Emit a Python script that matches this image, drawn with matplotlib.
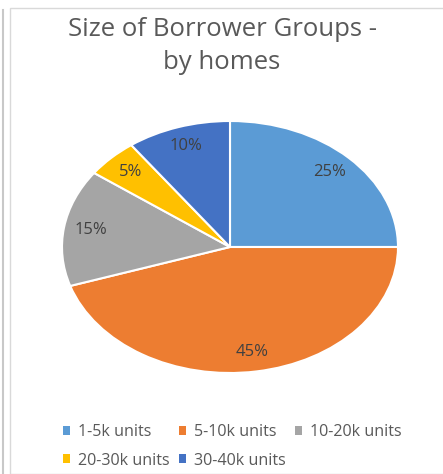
import matplotlib
matplotlib.use("Agg")
import matplotlib.pyplot as plt
from matplotlib.patches import Patch, Rectangle
from matplotlib.lines import Line2D

labels = ["1-5k units", "5-10k units", "10-20k units", "20-30k units", "30-40k units"]
shares = [25, 45, 15, 5, 10]
colors = ["#5B9BD5", "#ED7D31", "#A5A5A5", "#FFC000", "#4472C4"]

plt.rcParams["font.family"] = ["Open Sans", "DejaVu Sans"]
text_grey = "#595959"

fig = plt.figure(figsize=(4.43, 4.74), dpi=100)
W, H = 443, 474

# chart frame and the stray line at the far left (behind everything)
fig.add_artist(Rectangle((10 / W, 0), 1.0, 1 - 8 / H, transform=fig.transFigure,
                         facecolor="white", edgecolor="#D9D9D9", linewidth=1.0,
                         zorder=-5))
fig.add_artist(Line2D([2.5 / W, 2.5 / W], [0, 1 - 10 / H], transform=fig.transFigure,
                      color="#C8C8C8", linewidth=1.5, zorder=-5))

# pie is stretched horizontally in the reference (ellipse)
ax = fig.add_axes([62 / W, (H - 373) / H, 336 / W, 252 / H])
wedges, texts, autotexts = ax.pie(
    shares, colors=colors, startangle=90, counterclock=False,
    autopct="%d%%", pctdistance=0.84,
    wedgeprops=dict(edgecolor="white", linewidth=1.5),
    textprops=dict(color="#404040", fontsize=12))
ax.set_aspect("auto")
ax.set_xlim(-1, 1)
ax.set_ylim(-1, 1)
ax.axis("off")

fig.text(222 / W, 1 - 46 / H, "Size of Borrower Groups -\nby homes", ha="center",
         va="center", fontsize=18.5, color=text_grey, linespacing=1.38)

# legend filled row by row: 3 on the first line, 2 on the second
handles = [Patch(facecolor=c, edgecolor="none") for c in colors]
order = [0, 3, 1, 4, 2]
leg = fig.legend([handles[i] for i in order], [labels[i] for i in order],
                 ncol=3, loc="center left", bbox_to_anchor=(63 / W, 1 - 446.5 / H),
                 frameon=False, fontsize=11.6, handlelength=0.45, handleheight=0.45,
                 handletextpad=0.5, columnspacing=0.55, labelspacing=0.75,
                 borderpad=0, borderaxespad=0)
for t in leg.get_texts():
    t.set_color(text_grey)

fig.savefig("out.png", dpi=100)
